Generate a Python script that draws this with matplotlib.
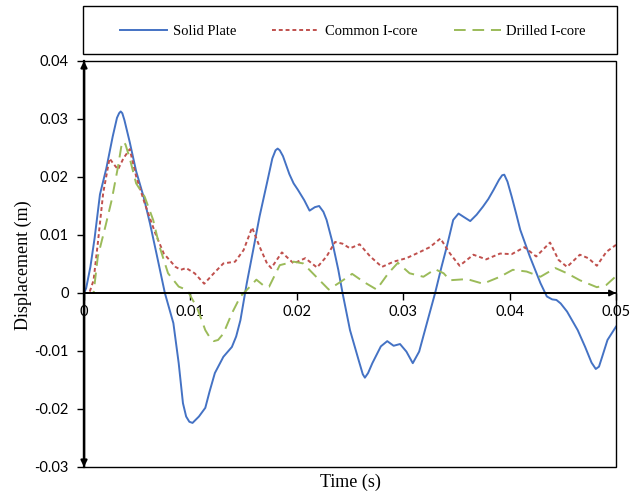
import matplotlib
matplotlib.use("Agg")
import matplotlib.pyplot as plt
from matplotlib.patches import Rectangle

# time (s) and displacement (m)
t_solid = [0, 0.0002, 0.0006, 0.001, 0.0015, 0.0021, 0.0027, 0.0031, 0.0033, 0.00345,
           0.0036, 0.0038, 0.0043, 0.0049, 0.0056, 0.0062, 0.0068, 0.0076, 0.0084, 0.0089,
           0.0093, 0.0096, 0.0099, 0.0102, 0.0108, 0.0114, 0.0118, 0.0123, 0.0131, 0.0139,
           0.0143, 0.0147, 0.0153, 0.0159, 0.0165, 0.0172, 0.0177, 0.018, 0.0182, 0.0184,
           0.0187, 0.0193, 0.0197, 0.0201, 0.0207, 0.0212, 0.0217, 0.0221, 0.0225, 0.0228,
           0.0233, 0.0239, 0.0243, 0.025, 0.0258, 0.0262, 0.0264, 0.0267, 0.0271, 0.0279,
           0.0285, 0.0291, 0.0297, 0.0303, 0.0309, 0.0315, 0.0323, 0.033, 0.0336, 0.0341,
           0.0347, 0.0352, 0.0357, 0.0363, 0.0369, 0.0375, 0.038, 0.0385, 0.039, 0.0393,
           0.0395, 0.0398, 0.0402, 0.0406, 0.041, 0.0419, 0.0429, 0.0435, 0.044, 0.0444,
           0.0448, 0.0454, 0.0464, 0.0471, 0.0477, 0.0481, 0.0484, 0.0487, 0.0492, 0.05]
d_solid = [0, 0.0008, 0.0045, 0.0095, 0.017, 0.0215, 0.027, 0.0302, 0.031, 0.0313,
           0.031, 0.0298, 0.026, 0.021, 0.0166, 0.012, 0.0069, 0.0, -0.0052, -0.0121,
           -0.019, -0.0213, -0.0222, -0.0224, -0.0213, -0.0198, -0.017, -0.0138, -0.011, -0.0093,
           -0.0075, -0.0047, 0.0017, 0.0074, 0.0132, 0.019, 0.0232, 0.0246, 0.0249, 0.0246,
           0.0236, 0.0205, 0.0189, 0.0178, 0.016, 0.0142, 0.0148, 0.015, 0.014, 0.0126,
           0.0091, 0.004, 0.0, -0.0064, -0.0115, -0.014, -0.0146, -0.0138, -0.0121, -0.0092,
           -0.0083, -0.0091, -0.0088, -0.0101, -0.0121, -0.0101, -0.0047, 0.0, 0.0045, 0.008,
           0.0126, 0.0137, 0.0131, 0.0124, 0.0135, 0.0149, 0.0162, 0.0178, 0.0195, 0.0203,
           0.0204, 0.0192, 0.0166, 0.0138, 0.0109, 0.0063, 0.0017, -0.0006, -0.0011, -0.0012,
           -0.0018, -0.0032, -0.0064, -0.0093, -0.012, -0.0131, -0.0127, -0.011, -0.0081, -0.0058]

t_common = [0, 0.0005, 0.0009, 0.0013, 0.0018, 0.0024, 0.0028, 0.0032, 0.0037, 0.0043,
            0.0049, 0.0057, 0.0067, 0.0075, 0.0086, 0.0091, 0.0096, 0.0104, 0.0113, 0.0122,
            0.0131, 0.0142, 0.015, 0.0158, 0.0165, 0.0172, 0.0176, 0.0186, 0.0197, 0.0208,
            0.0219, 0.0228, 0.0236, 0.0243, 0.025, 0.0259, 0.0269, 0.028, 0.0291, 0.0303,
            0.0316, 0.0325, 0.0335, 0.0344, 0.0353, 0.0366, 0.0378, 0.0391, 0.0402, 0.0414,
            0.0425, 0.0438, 0.0446, 0.0454, 0.0466, 0.0474, 0.0482, 0.0491, 0.05]
d_common = [0, 0.0, 0.0022, 0.0086, 0.0172, 0.0232, 0.0222, 0.0213, 0.0232, 0.0248,
            0.0201, 0.0155, 0.0103, 0.0068, 0.0045, 0.004, 0.0043, 0.0034, 0.0016, 0.0034,
            0.0051, 0.0054, 0.0074, 0.0113, 0.008, 0.0051, 0.0043, 0.007, 0.0051, 0.006,
            0.0044, 0.0063, 0.0088, 0.0085, 0.0077, 0.0084, 0.0063, 0.0045, 0.0054, 0.006,
            0.0071, 0.0079, 0.0094, 0.0068, 0.0047, 0.0066, 0.0058, 0.0068, 0.0067, 0.0079,
            0.0063, 0.0087, 0.0057, 0.0045, 0.0066, 0.006, 0.0047, 0.0071, 0.0083]

t_drilled = [0, 0.0009, 0.0013, 0.002, 0.0026, 0.0032, 0.0035, 0.0037, 0.0039, 0.0043,
             0.0049, 0.0057, 0.0065, 0.0071, 0.0079, 0.0089, 0.0097, 0.0104, 0.0107, 0.0114,
             0.0119, 0.0122, 0.0126, 0.0131, 0.0139, 0.0147, 0.0156, 0.0162, 0.017, 0.0174,
             0.0184, 0.0197, 0.0206, 0.0215, 0.023, 0.0241, 0.0252, 0.0263, 0.0275, 0.0286,
             0.0295, 0.0306, 0.0319, 0.033, 0.0338, 0.0344, 0.036, 0.0375, 0.0391, 0.0403,
             0.0416, 0.0429, 0.0443, 0.0454, 0.0466, 0.0482, 0.0491, 0.05]
d_drilled = [0, 0.0, 0.0063, 0.0114, 0.016, 0.0218, 0.0252, 0.0261, 0.0256, 0.0232,
             0.0189, 0.0166, 0.0126, 0.008, 0.0034, 0.0011, 0.0005, -0.0018, -0.0029, -0.0064,
             -0.0079, -0.0083, -0.0081, -0.007, -0.0035, -0.0006, 0.0011, 0.0023, 0.0011, 0.0011,
             0.0048, 0.0054, 0.0051, 0.0034, 0.0006, 0.0019, 0.0033, 0.0019, 0.0006, 0.0034,
             0.0052, 0.0034, 0.0028, 0.0041, 0.0034, 0.0022, 0.0024, 0.0016, 0.0028, 0.004,
             0.0037, 0.0028, 0.0043, 0.0034, 0.0022, 0.001, 0.0014, 0.0029]

x_ticks = [0, 0.01, 0.02, 0.03, 0.04, 0.05]
x_labels = ["0", "0.01", "0.02", "0.03", "0.04", "0.05"]
y_ticks = [-0.03, -0.02, -0.01, 0, 0.01, 0.02, 0.03, 0.04]
y_labels = ["-0.03", "-0.02", "-0.01", "0", "0.01", "0.02", "0.03", "0.04"]

blue = "#4472C4"
red = "#C0504D"
green = "#9BBB59"
serif = "Liberation Serif"
tick_font = "Lato"

fig = plt.figure(figsize=(6.39, 4.92), dpi=100)
ax = fig.add_axes([84 / 639, 1 - 467 / 492, 532 / 639, 406 / 492])

ax.plot(t_solid, d_solid, color=blue, lw=1.4, label="Solid Plate", solid_joinstyle="round")
ax.plot(t_common, d_common, color=red, lw=1.4, linestyle=(0, (2, 1.5)), label="Common I-core")
ax.plot(t_drilled, d_drilled, color=green, lw=1.4, linestyle=(0, (6, 3.5)), label="Drilled I-core")

ax.set_xlim(0, 0.05)
ax.set_ylim(-0.03, 0.04)

# frame around the plot area
ax.add_patch(Rectangle((0, 0), 1, 1, transform=ax.transAxes, fill=False,
                       edgecolor="black", lw=1.0, clip_on=False, zorder=5))
ax.spines["top"].set_visible(False)
ax.spines["right"].set_visible(False)
ax.spines["left"].set_linewidth(1.6)
ax.spines["bottom"].set_position(("data", 0))
ax.spines["bottom"].set_linewidth(1.3)

# axis arrows
ax.annotate("", xy=(0, 1), xytext=(0, 0), xycoords="axes fraction",
            arrowprops=dict(arrowstyle="<|-|>", color="black", lw=1.6,
                            shrinkA=0, shrinkB=0, mutation_scale=9))
ax.annotate("", xy=(0.05, 0), xytext=(0, 0), xycoords="data",
            arrowprops=dict(arrowstyle="-|>", color="black", lw=1.3,
                            shrinkA=0, shrinkB=0, mutation_scale=9))

ax.set_xticks(x_ticks)
ax.set_xticklabels(x_labels, fontfamily=tick_font, fontsize=10.5)
ax.set_yticks(y_ticks)
ax.set_yticklabels(y_labels, fontfamily=tick_font, fontsize=10.5)
ax.tick_params(axis="x", direction="out", length=5, width=1, pad=4)
ax.tick_params(axis="y", direction="out", length=5, width=1, pad=6)

fig.text(350 / 639, 1 - 482 / 492, "Time (s)", ha="center", va="center",
         fontfamily=serif, fontsize=13)
fig.text(23 / 639, 1 - 265 / 492, "Displacement (m)", ha="center", va="center",
         rotation=90, fontfamily=serif, fontsize=13)

# legend box above the plot
fig.patches.append(Rectangle((83 / 639, 1 - 54 / 492), 534 / 639, 48 / 492,
                             transform=fig.transFigure, fill=False,
                             edgecolor="black", lw=1.0))
fig.legend(loc="center", bbox_to_anchor=(353 / 639, 1 - 31 / 492), ncol=3,
           frameon=False, prop={"family": serif, "size": 10.5},
           handlelength=3.2, handletextpad=0.4, columnspacing=2.5)

fig.savefig("out.png", dpi=100)
